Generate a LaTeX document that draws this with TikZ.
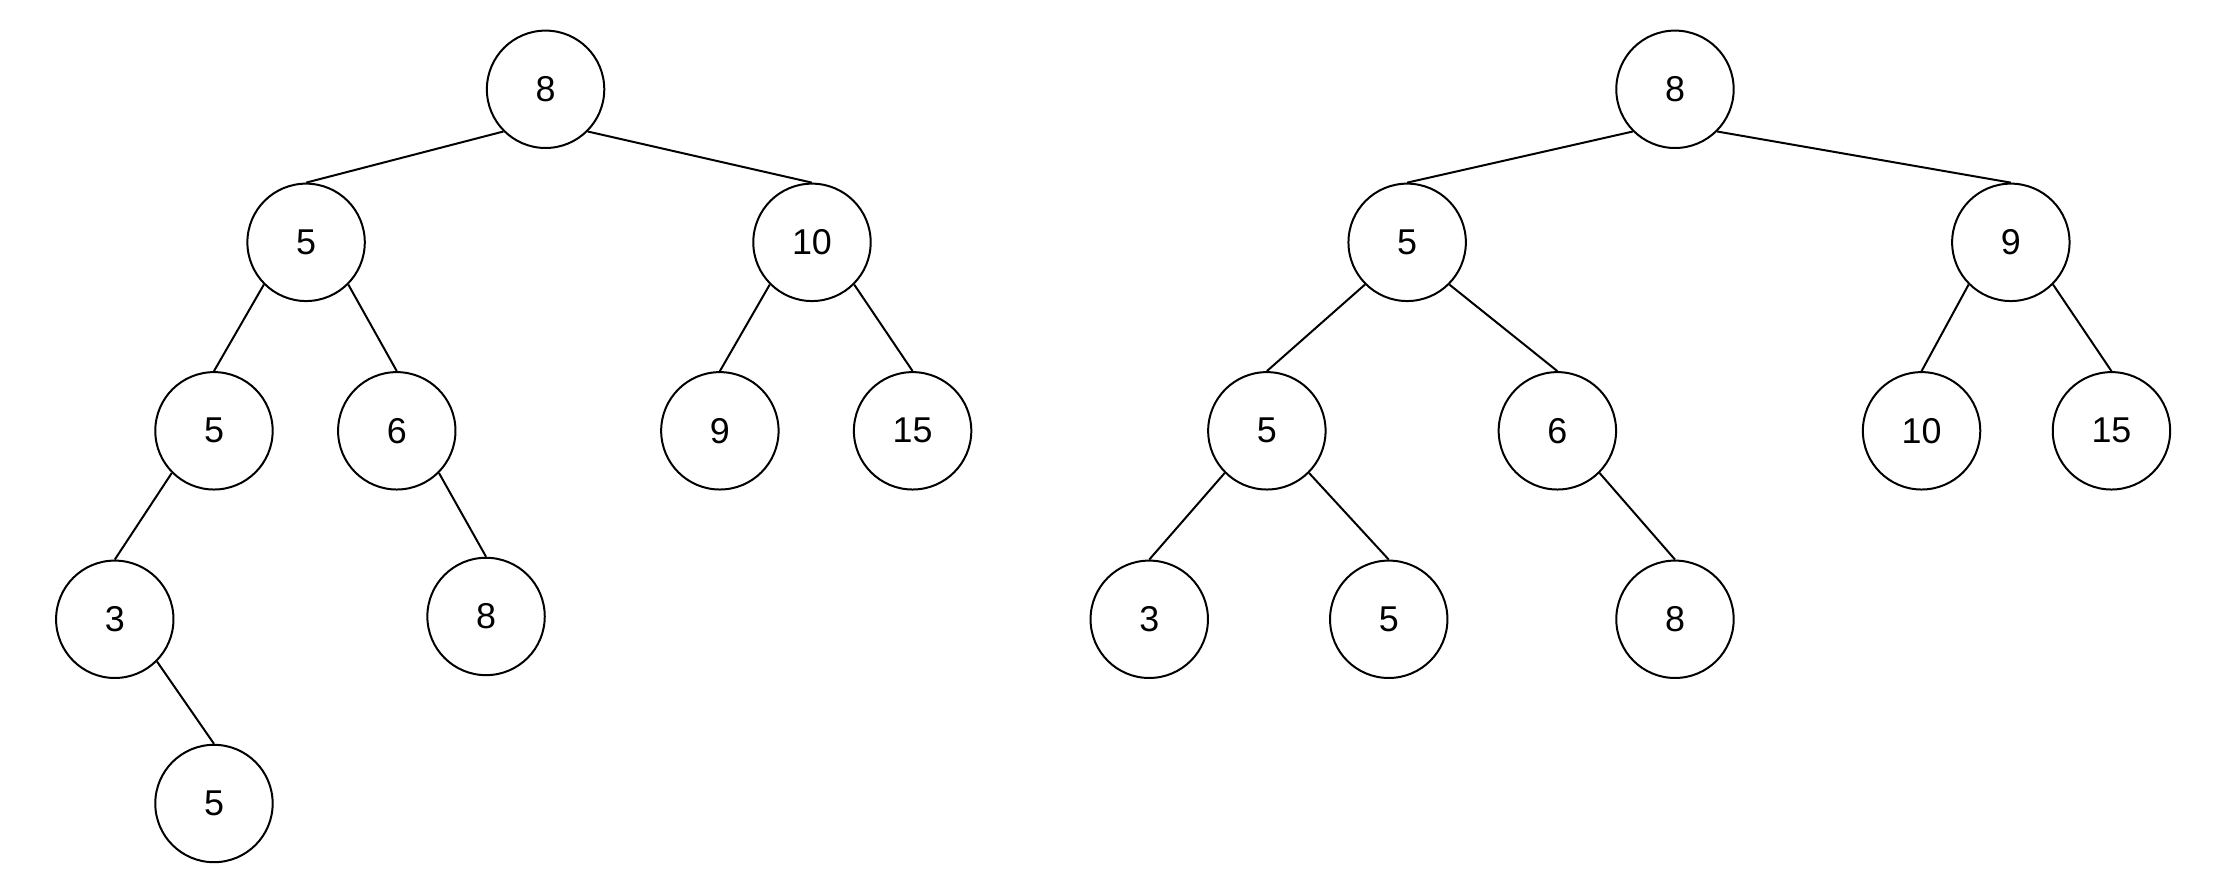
\documentclass[tikz,border=0pt]{standalone}
\usepackage{fontspec}
\setmainfont{Liberation Sans}
\usepackage{tikz}

\begin{document}
\begin{tikzpicture}[
  x=0.01cm, y=-0.01cm,
  num/.style={draw, circle, line width=0.4pt, minimum size=0.828cm, inner sep=0pt, font=\fontsize{7.2}{8}\selectfont},
  edge/.style={line width=0.4pt}
]
\useasboundingbox (0,0) rectangle (1568,632);
% left tree
\node[num] (l8)  at (385,63)  {8};
\node[num] (l5)  at (216,171) {5};
\node[num] (l10) at (573,171) {10};
\node[num] (l5a) at (151,304) {5};
\node[num] (l6)  at (280,304) {6};
\node[num] (l9)  at (508,304) {9};
\node[num] (l15) at (644,304) {15};
\node[num] (l3)  at (81,437)  {3};
\node[num] (l8a) at (343,435) {8};
\node[num] (l5b) at (151,567) {5};
\draw[edge] (l8.south west) -- (l5.north);
\draw[edge] (l8.south east) -- (l10.north);
\draw[edge] (l5.south west) -- (l5a.north);
\draw[edge] (l5.south east) -- (l6.north);
\draw[edge] (l10.south west) -- (l9.north);
\draw[edge] (l10.south east) -- (l15.north);
\draw[edge] (l5a.south west) -- (l3.north);
\draw[edge] (l6.south east) -- (l8a.north);
\draw[edge] (l3.south east) -- (l5b.north);
% right tree
\node[num] (r8)  at (1182,63)  {8};
\node[num] (r5)  at (993,171)  {5};
\node[num] (r9)  at (1419,171) {9};
\node[num] (r5a) at (894,304)  {5};
\node[num] (r6)  at (1099,304) {6};
\node[num] (r10) at (1356,304) {10};
\node[num] (r15) at (1490,304) {15};
\node[num] (r3)  at (811,437)  {3};
\node[num] (r5b) at (980,437)  {5};
\node[num] (r8a) at (1182,437) {8};
\draw[edge] (r8.south west) -- (r5.north);
\draw[edge] (r8.south east) -- (r9.north);
\draw[edge] (r5.south west) -- (r5a.north);
\draw[edge] (r5.south east) -- (r6.north);
\draw[edge] (r9.south west) -- (r10.north);
\draw[edge] (r9.south east) -- (r15.north);
\draw[edge] (r5a.south west) -- (r3.north);
\draw[edge] (r5a.south east) -- (r5b.north);
\draw[edge] (r6.south east) -- (r8a.north);
\end{tikzpicture}
\end{document}
